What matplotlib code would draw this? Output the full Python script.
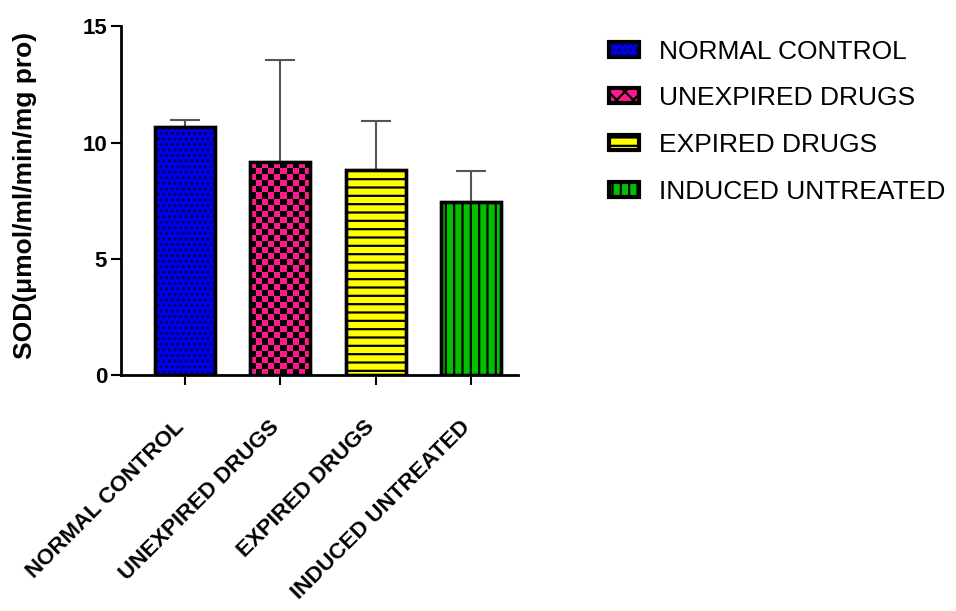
import matplotlib.pyplot as plt
import numpy as np
from matplotlib.patches import Patch
from matplotlib.legend_handler import HandlerTuple
from matplotlib.colors import ListedColormap

groups = ["NORMAL CONTROL", "UNEXPIRED DRUGS", "EXPIRED DRUGS", "INDUCED UNTREATED"]
means = [10.66, 9.15, 8.81, 7.43]
errors = [0.30, 4.40, 2.11, 1.34]
colors = ["#0000ee", "#ff1a8c", "#ffff00", "#00c000"]
hatches = ["...", None, "--", "||"]
hatch_colors = ["#000060", "black", "black", "black"]

plt.rcParams['font.family'] = ['Liberation Sans', 'DejaVu Sans']
plt.rcParams['hatch.linewidth'] = 1.6

fig = plt.figure(figsize=(9.56, 6.11), dpi=100)
ax = fig.add_axes([0.1266, 0.386, 0.415, 0.571])

x = np.arange(len(groups))
width = 0.63

ax.set_xlim(-0.67, 3.49)
ax.set_ylim(0, 15)

# error bars (upper only)
ax.errorbar(x, means, yerr=[np.zeros(len(errors)), errors], fmt='none',
            ecolor='#555555', elinewidth=1.5, capsize=11, capthick=1.5, zorder=1)

bars = ax.bar(x, means, width, color=colors, edgecolor='black', linewidth=2.4, zorder=2)
for b, h, hc in zip(bars, hatches, hatch_colors):
    if h is None:
        # checkerboard fill for the pink bar
        x0, y0 = b.get_x(), b.get_y()
        w, hgt = b.get_width(), b.get_height()
        p0 = ax.transData.transform((x0, y0))
        p1 = ax.transData.transform((x0 + w, y0 + hgt))
        nx = 10
        ny = int(round(nx * (p1[1] - p0[1]) / (p1[0] - p0[0])))
        board = (np.add.outer(np.arange(ny), np.arange(nx)) % 2).astype(float)
        im = ax.imshow(board, cmap=ListedColormap([b.get_facecolor(), 'black']),
                       extent=(x0, x0 + w, y0, y0 + hgt), aspect='auto',
                       interpolation='nearest', zorder=2.5)
        im.set_clip_path(b)
    else:
        ax.bar(b.get_x() + b.get_width() / 2, b.get_height(), width, color='none',
               edgecolor=hc, hatch=h, linewidth=0, zorder=3)
ax.bar(x, means, width, color='none', edgecolor='black', linewidth=2.4, zorder=4)

ax.set_xlim(-0.67, 3.49)
ax.set_ylim(0, 15)
ax.set_yticks([0, 5, 10, 15])
ax.set_xticks(x)
ax.set_xticklabels(groups, rotation=45, ha='right', va='baseline', rotation_mode='anchor',
                   fontsize=16, fontweight='bold')
for lab in ax.get_yticklabels():
    lab.set_fontweight('bold')
    lab.set_fontsize(16)
ax.tick_params(axis='x', length=7, width=1.5, pad=31)
ax.tick_params(axis='y', length=7, width=1.5, pad=3)

for s in ['top', 'right']:
    ax.spines[s].set_visible(False)
for s in ['left', 'bottom']:
    ax.spines[s].set_linewidth(2)

ax.set_ylabel("SOD(μmol/ml/min/mg pro)", fontsize=19, fontweight='bold')
ax.yaxis.set_label_coords(-0.212, 0.516)

handles = []
for c, h, hc in zip(colors, hatches, hatch_colors):
    handles.append((Patch(facecolor=c, edgecolor='black', linewidth=3),
                    Patch(facecolor='none', edgecolor=hc, hatch=h if h else 'xx', linewidth=0)))
fig.legend(handles, groups, handler_map={tuple: HandlerTuple(ndivide=1, pad=0)},
           loc='upper left', bbox_to_anchor=(0.612, 0.974), frameon=False,
           fontsize=19, handlelength=1.15, handleheight=0.5, labelspacing=0.86,
           handletextpad=0.75)

fig.savefig("out.png", dpi=100)
